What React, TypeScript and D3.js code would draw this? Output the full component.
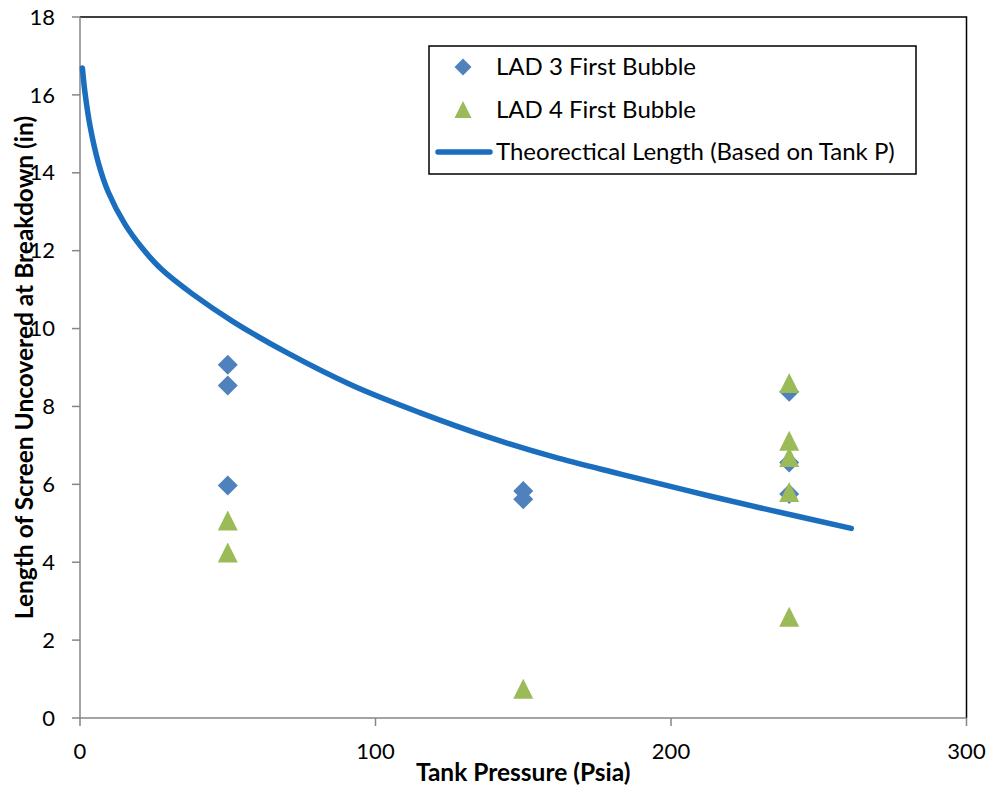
import React from 'react';
import * as d3 from 'd3';

// LAD 3 first bubble (diamonds)
const lad3Pressure = [50, 50, 50, 150, 150, 240, 240, 240];
const lad3Length = [9.07, 8.54, 5.97, 5.83, 5.62, 8.38, 6.56, 5.75];

// LAD 4 first bubble (triangles)
const lad4Pressure = [50, 50, 150, 240, 240, 240, 240, 240];
const lad4Length = [5.07, 4.25, 0.75, 8.6, 7.12, 6.7, 5.8, 2.6];

// theoretical curve
const theoryPressure = [0.8, 1.7, 3.4, 6.2, 9.6, 15.2, 20.9, 27.6, 38, 51.8, 70, 92.4, 115, 137.5, 160, 182.6, 206, 230, 261];
const theoryLength = [16.69, 16.05, 15.2, 14.26, 13.5, 12.68, 12.08, 11.52, 10.89, 10.18, 9.38, 8.53, 7.84, 7.23, 6.71, 6.27, 5.83, 5.4, 4.87];

const xTicks = [0, 100, 200, 300];
const yTicks = [0, 2, 4, 6, 8, 10, 12, 14, 16, 18];
const legendLabels = ['LAD 3 First Bubble', 'LAD 4 First Bubble', 'Theorectical Length (Based on Tank P)'];

const W = 992;
const H = 791;
const margin = { top: 17, right: 25, bottom: 73, left: 80 };
const font = 'Lato, "Open Sans", sans-serif';

const blue = '#4f81bd';
const green = '#9bbb59';
const lineBlue = '#1b6ebe';
const axisGray = '#868686';

const App = () => {
  const x = d3.scaleLinear().domain([0, 300]).range([margin.left, W - margin.right - 0.5]);
  const y = d3.scaleLinear().domain([0, 18]).range([H - margin.bottom, margin.top]);

  const line = d3
    .line<number>()
    .x((d, i) => x(theoryPressure[i]))
    .y((d) => y(d))
    .curve(d3.curveCatmullRom.alpha(0.5));

  const diamond = (cx: number, cy: number, r: number) =>
    `M${cx},${cy - r}L${cx + r},${cy}L${cx},${cy + r}L${cx - r},${cy}Z`;
  const triangle = (cx: number, cy: number, r: number) =>
    `M${cx},${cy - r}L${cx + r},${cy + r}L${cx - r},${cy + r}Z`;

  const x0 = x(0);
  const x1 = x(300);
  const y0 = y(0);
  const y1 = y(18);

  // legend
  const lg = { x: 429, y: 46, w: 487, h: 128 };
  const rowY = (i: number) => lg.y + 21 + i * 42.5;

  return (
    <svg width={W} height={H} style={{ position: 'absolute', left: 0, top: 0, background: '#fff' }} fontFamily={font}>
      {/* plot area border top / right */}
      <path d={`M${x0},${y1}H${x1}V${y0}`} fill="none" stroke="#000" strokeWidth={1.5} />

      {/* axes */}
      <line x1={x0} x2={x1} y1={y0} y2={y0} stroke={axisGray} strokeWidth={1.5} />
      <line x1={x0} x2={x0} y1={y1} y2={y0} stroke={axisGray} strokeWidth={1.5} />
      {yTicks.map((t) => (
        <g key={'y' + t}>
          <line x1={x0 - 8} x2={x0} y1={y(t)} y2={y(t)} stroke={axisGray} strokeWidth={1.5} />
          <text x={55} y={y(t)} dy="0.35em" textAnchor="end" fontSize={22} fill="#000">
            {t}
          </text>
        </g>
      ))}
      {xTicks.map((t) => (
        <g key={'x' + t}>
          <line x1={x(t)} x2={x(t)} y1={y0} y2={y0 + 8} stroke={axisGray} strokeWidth={1.5} />
          <text x={x(t)} y={759} textAnchor="middle" fontSize={22} fill="#000">
            {t}
          </text>
        </g>
      ))}

      {/* axis titles */}
      <text x={(x0 + x1) / 2} y={781} textAnchor="middle" fontSize={24.5} fontWeight="bold">
        Tank Pressure (Psia)
      </text>
      <text
        transform={`translate(33,${(y0 + y1) / 2}) rotate(-90)`}
        textAnchor="middle"
        fontSize={24.5}
        fontWeight="bold"
      >
        Length of Screen Uncovered at Breakdown (in)
      </text>

      {/* theory curve */}
      <path d={line(theoryLength) || ''} fill="none" stroke={lineBlue} strokeWidth={5.5} strokeLinecap="round" />

      {/* LAD 3 */}
      {lad3Length.map((v, i) => (
        <path key={'a' + i} d={diamond(x(lad3Pressure[i]), y(v), 10)} fill={blue} />
      ))}
      {/* LAD 4 */}
      {lad4Length.map((v, i) => (
        <path key={'b' + i} d={triangle(x(lad4Pressure[i]), y(v), 10)} fill={green} />
      ))}

      {/* legend */}
      <rect x={lg.x} y={lg.y} width={lg.w} height={lg.h} fill="#fff" stroke="#000" strokeWidth={1.5} />
      <path d={diamond(463, rowY(0), 8.5)} fill={blue} />
      <path d={triangle(463, rowY(1), 8.5)} fill={green} />
      <line x1={438} x2={490} y1={rowY(2)} y2={rowY(2)} stroke={lineBlue} strokeWidth={5.5} strokeLinecap="round" />
      {legendLabels.map((l, i) => (
        <text key={l} x={496} y={rowY(i)} dy="0.35em" fontSize={24} fill="#000">
          {l}
        </text>
      ))}
    </svg>
  );
};

export default App;
